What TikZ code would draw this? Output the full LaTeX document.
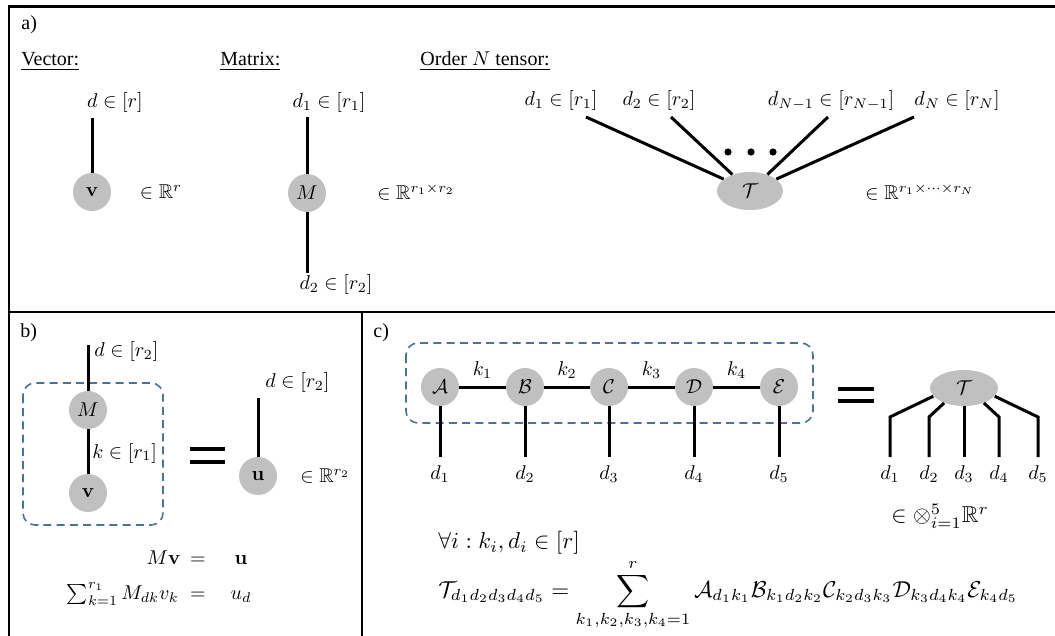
\documentclass[tikz,border=0pt]{standalone}
\usepackage[no-math]{fontspec}
\setmainfont{Liberation Serif}
\usepackage{amsmath,amssymb}
\usetikzlibrary{shapes.geometric}
\definecolor{tngray}{RGB}{192,192,192}
\definecolor{tnblue}{RGB}{72,114,160}

\begin{document}
\begin{tikzpicture}[
    x=0.5pt, y=-0.5pt,
    %% ── node styles ──────────────────────────────────────────────────────────
    tensor/.style={
        circle, fill=tngray, inner sep=0pt, minimum size=19pt
    },
    bigtensor/.style={
        ellipse, fill=tngray, inner sep=0pt,
        minimum width=#1, minimum height=19pt
    },
    lbl/.style={inner sep=0pt},
    bigmath/.style={inner sep=0pt, scale=1.15, transform shape},
    %% ── line styles ──────────────────────────────────────────────────────────
    leg/.style={line width=1.5pt},
    frameline/.style={line width=1.3pt},
    eqsign/.style={line width=1.7pt},
    groupbox/.style={
        draw=tnblue, line width=0.8pt,
        dash pattern=on 4pt off 2.6pt, rounded corners=6pt
    },
]
\useasboundingbox (0,0) rectangle (1055,636);

%% ── panel frame ──────────────────────────────────────────────────────────────
\draw[frameline] (9,636) -- (9,6.5) -- (1055,6.5);
\draw[frameline] (9,312) -- (1055,312);
\draw[frameline] (362,312) -- (362,636);

%% ─────────────────────────────────────────────────────────────────────────────
%% a) vector, matrix, order N tensor
%% ─────────────────────────────────────────────────────────────────────────────
\node[lbl, anchor=west] (taga) at (21,25) {a)};
\node[lbl, anchor=base west] (hvec) at (21,66) {\underline{Vector:}};
\node[lbl, anchor=base west] (hmat) at (220,66) {\underline{Matrix:}};
\node[lbl, anchor=base west] (hten) at (420,66) {\underline{Order $N$ tensor:}};

%% vector
\node[tensor] (v) at (92,192) {$\mathbf{v}$};
\coordinate (vtop) at (92,118);
\draw[leg] (vtop) -- (v);
\node (vdim) at (115,103) {$d\in[r]$};
\node (vspace) at (161,192) {$\in\mathbb{R}^r$};

%% matrix
\node[tensor] (M) at (307,193) {$M$};
\coordinate (Mtop) at (307,117);
\coordinate (Mbot) at (307,273);
\draw[leg] (Mtop) -- (M) -- (Mbot);
\node (Mdimi) at (329,103) {$d_1\in[r_1]$};
\node (Mdimii) at (336,285) {$d_2\in[r_2]$};
\node (Mspace) at (416,192) {$\in\mathbb{R}^{r_1\times r_2}$};

%% order N tensor
\node[bigtensor=33pt] (T) at (750,191) {$\mathcal{T}$};
\coordinate (t1) at (586,117);
\coordinate (t2) at (671,117);
\coordinate (t3) at (828,117);
\coordinate (t4) at (914,117);
\foreach \i in {1,...,4}
    \draw[leg] (t\i) -- (T);
\node (Tdimi)   at (561,101) {$d_1\in[r_1]$};
\node (Tdimii)  at (659,101) {$d_2\in[r_2]$};
\node (Tdimn1)  at (831,101) {$d_{N-1}\in[r_{N-1}]$};
\node (Tdimn)   at (957,101) {$d_N\in[r_N]$};
\foreach \x in {728,751,773}
    \fill (\x,152) circle (1.8pt);
\node (Tspace) at (920,192) {$\in\mathbb{R}^{r_1\times\cdots\times r_N}$};

%% ─────────────────────────────────────────────────────────────────────────────
%% b) matrix-vector product
%% ─────────────────────────────────────────────────────────────────────────────
\node[lbl, anchor=west] (tagb) at (20,333) {b)};

\draw[groupbox] (23,383) rectangle (163,525);
\node[tensor] (bM) at (88,410) {$M$};
\node[tensor] (bv) at (88,493) {$\mathbf{v}$};
\coordinate (bMtop) at (88,345);
\draw[leg] (bMtop) -- (bM) -- (bv);
\node[lbl, anchor=west] (bdim) at (94,352) {$d\in[r_2]$};
\node[lbl, anchor=west] (kdim) at (92,453) {$k\in[r_1]$};

\draw[eqsign] (190,449) -- (225,449) (190,462) -- (225,462);

\node[tensor] (u) at (258,476) {$\mathbf{u}$};
\coordinate (utop) at (258,398);
\draw[leg] (utop) -- (u);
\node[lbl, anchor=west] (udim) at (265,382) {$d\in[r_2]$};
\node[lbl, anchor=west] (uspace) at (300,476) {$\in\mathbb{R}^{r_2}$};

%% equations
\node[lbl, anchor=base east] (eqla) at (181,564) {$M\mathbf{v}$};
\node[lbl, anchor=base] (eqea) at (198,564) {$=$};
\node[lbl, anchor=base] (eqra) at (241,564) {$\mathbf{u}$};
\node[lbl, anchor=base east] (eqlb) at (179,599) {$\sum_{k=1}^{r_1}M_{dk}v_k$};
\node[lbl, anchor=base] (eqeb) at (198,599) {$=$};
\node[lbl, anchor=base] (eqrb) at (241,599) {$u_d$};

%% ─────────────────────────────────────────────────────────────────────────────
%% c) tensor train
%% ─────────────────────────────────────────────────────────────────────────────
\node[lbl, anchor=west] (tagc) at (373,333) {c)};

\draw[groupbox] (406,343) rectangle (813,423);
\node[tensor] (A) at (440,387) {$\mathcal{A}$};
\node[tensor] (B) at (525,387) {$\mathcal{B}$};
\node[tensor] (C) at (609,387) {$\mathcal{C}$};
\node[tensor] (D) at (694,387) {$\mathcal{D}$};
\node[tensor] (E) at (779,387) {$\mathcal{E}$};
\draw[leg] (A) -- node[above] {$k_1$} (B)
               -- node[above] {$k_2$} (C)
               -- node[above] {$k_3$} (D)
               -- node[above] {$k_4$} (E);
\foreach \n/\x [count=\i] in {A/440,B/525,C/609,D/694,E/779} {
    \coordinate (cb\i) at (\x,457);
    \draw[leg] (\n) -- (cb\i);
    \node[lbl] (cd\i) at (\x,474) {$d_\i$};
}

\draw[eqsign] (838,389) -- (874,389) (838,401) -- (874,401);

%% contracted tensor
\node[bigtensor=34pt, minimum height=18pt] (T2) at (964,388) {$\mathcal{T}$};
\coordinate (k1) at (890,417);  \coordinate (e1) at (890,457);
\coordinate (k2) at (929,417);  \coordinate (e2) at (929,457);
\coordinate (e3) at (964,457);
\coordinate (k4) at (999,417);  \coordinate (e4) at (999,457);
\coordinate (k5) at (1038,417); \coordinate (e5) at (1038,457);
\draw[leg] (T2.195) -- (k1) -- (e1);
\draw[leg] (T2.217) -- (k2) -- (e2);
\draw[leg] (T2.south) -- (e3);
\draw[leg] (T2.-37) -- (k4) -- (e4);
\draw[leg] (T2.-15) -- (k5) -- (e5);
\foreach \x [count=\i] in {890,929,964,999,1038}
    \node[lbl] (Td\i) at (\x,474) {$d_\i$};
\node[bigmath] (T2space) at (940,516) {$\in\otimes_{i=1}^{5}\mathbb{R}^r$};

%% index ranges and contraction formula
\node[bigmath, anchor=west] (forall) at (438,543) {$\forall i: k_i,d_i\in[r]$};
\node[bigmath, anchor=base west] (ttsum) at (438,597)
    {$\displaystyle \mathcal{T}_{d_1d_2d_3d_4d_5} = \sum_{k_1,k_2,k_3,k_4=1}^{r}
      \mathcal{A}_{d_1k_1}\mathcal{B}_{k_1d_2k_2}\mathcal{C}_{k_2d_3k_3}
      \mathcal{D}_{k_3d_4k_4}\mathcal{E}_{k_4d_5}$};

\end{tikzpicture}
\end{document}
